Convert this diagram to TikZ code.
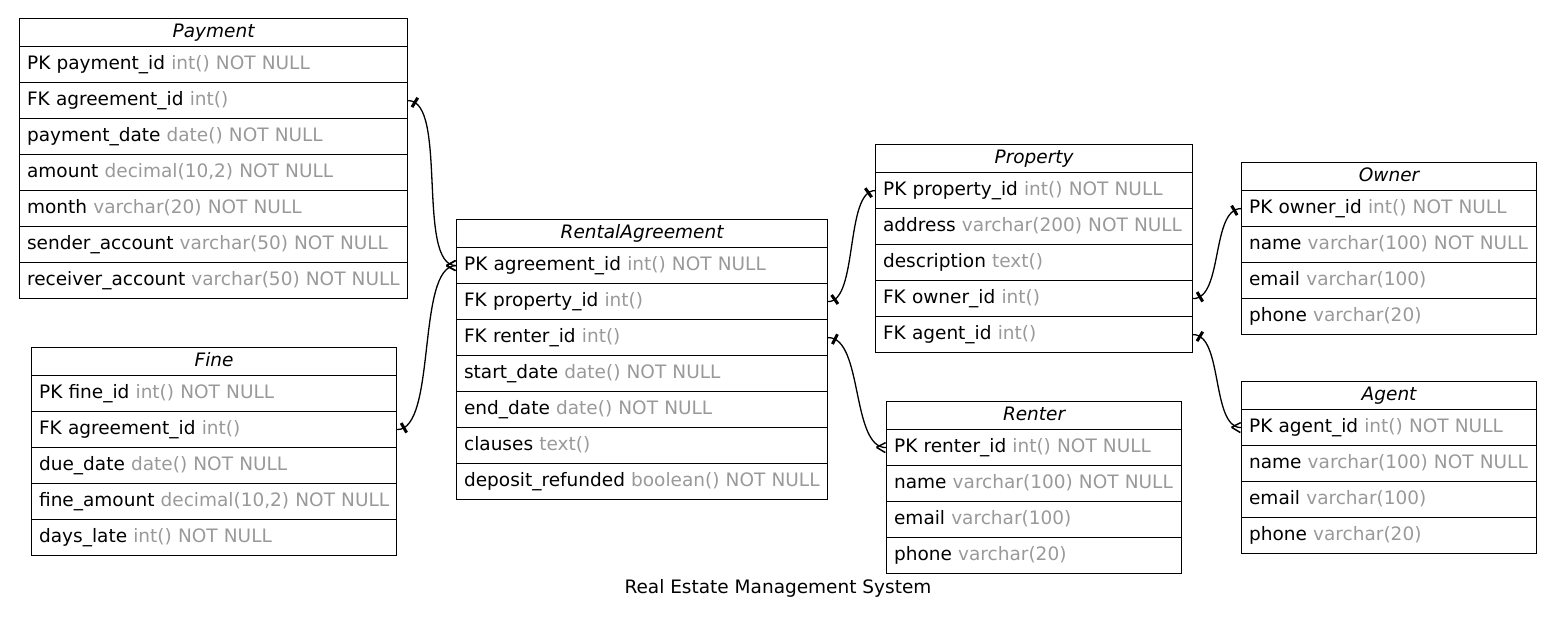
\documentclass[tikz,border=0pt]{standalone}
\usepackage{fontspec}
\setmainfont{DejaVu Sans}
\usetikzlibrary{decorations.markings}

\definecolor{typegray}{HTML}{999999}
\newcommand{\erfont}{\fontsize{18.5}{22}\selectfont}
\newcommand{\fld}[2]{\mbox{#1 \textcolor{typegray}{#2}}}

\tikzset{
  entity/.style={draw, line width=1.2pt, anchor=north west, minimum width=#1,
    minimum height=28pt, inner sep=0pt, text height=13pt, text depth=4pt, font=\erfont\itshape},
  field/.style={draw, line width=1.2pt, anchor=north west, minimum height=36pt,
    inner xsep=7.5pt, inner ysep=0pt, text height=13pt, text depth=4pt,
    align=left, text width=#1, font=\erfont},
  rel/.style={line width=1.3pt},
  barstart/.style={postaction={decorate, decoration={markings,
    mark=at position 7pt with {\draw[line width=3pt] (0,-5.5pt) -- (0,5.5pt);}}}},
  barend/.style={postaction={decorate, decoration={markings,
    mark=at position -7pt with {\draw[line width=3pt] (0,-5.5pt) -- (0,5.5pt);}}}},
  crowend/.style={postaction={decorate, decoration={markings,
    mark=at position -0.5pt with {\draw[line width=1.5pt] (-9pt,0) -- (0,5pt) (-9pt,0) -- (0,-5pt);}}}}
}

\begin{document}
\begin{tikzpicture}[x=1pt, y=-1pt]
    \useasboundingbox (0,0) rectangle (1556,623);

    % Payment
    \node[entity=388pt] (pay) at (19,18) {Payment};
    \foreach \i/\t in {1/{\fld{PK payment\_id}{int() NOT NULL}},
                       2/{\fld{FK agreement\_id}{int()}},
                       3/{\fld{payment\_date}{date() NOT NULL}},
                       4/{\fld{amount}{decimal(10,2) NOT NULL}},
                       5/{\fld{month}{varchar(20) NOT NULL}},
                       6/{\fld{sender\_account}{varchar(50) NOT NULL}},
                       7/{\fld{receiver\_account}{varchar(50) NOT NULL}}}
        \node[field=373pt] (pay\i) at (19,{46+(\i-1)*36}) {\t};

    % Fine
    \node[entity=365pt] (fine) at (31,347) {Fine};
    \foreach \i/\t in {1/{\fld{PK fine\_id}{int() NOT NULL}},
                       2/{\fld{FK agreement\_id}{int()}},
                       3/{\fld{due\_date}{date() NOT NULL}},
                       4/{\fld{fine\_amount}{decimal(10,2) NOT NULL}},
                       5/{\fld{days\_late}{int() NOT NULL}}}
        \node[field=350pt] (fine\i) at (31,{375+(\i-1)*36}) {\t};

    % RentalAgreement
    \node[entity=371pt] (ra) at (456,219) {RentalAgreement};
    \foreach \i/\t in {1/{\fld{PK agreement\_id}{int() NOT NULL}},
                       2/{\fld{FK property\_id}{int()}},
                       3/{\fld{FK renter\_id}{int()}},
                       4/{\fld{start\_date}{date() NOT NULL}},
                       5/{\fld{end\_date}{date() NOT NULL}},
                       6/{\fld{clauses}{text()}},
                       7/{\fld{deposit\_refunded}{boolean() NOT NULL}}}
        \node[field=356pt] (ra\i) at (456,{247+(\i-1)*36}) {\t};

    % Property
    \node[entity=317pt] (prop) at (875,144) {Property};
    \foreach \i/\t in {1/{\fld{PK property\_id}{int() NOT NULL}},
                       2/{\fld{address}{varchar(200) NOT NULL}},
                       3/{\fld{description}{text()}},
                       4/{\fld{FK owner\_id}{int()}},
                       5/{\fld{FK agent\_id}{int()}}}
        \node[field=302pt] (prop\i) at (875,{172+(\i-1)*36}) {\t};

    % Owner
    \node[entity=295pt] (own) at (1241,162) {Owner};
    \foreach \i/\t in {1/{\fld{PK owner\_id}{int() NOT NULL}},
                       2/{\fld{name}{varchar(100) NOT NULL}},
                       3/{\fld{email}{varchar(100)}},
                       4/{\fld{phone}{varchar(20)}}}
        \node[field=280pt] (own\i) at (1241,{190+(\i-1)*36}) {\t};

    % Renter
    \node[entity=295pt] (rent) at (886,401) {Renter};
    \foreach \i/\t in {1/{\fld{PK renter\_id}{int() NOT NULL}},
                       2/{\fld{name}{varchar(100) NOT NULL}},
                       3/{\fld{email}{varchar(100)}},
                       4/{\fld{phone}{varchar(20)}}}
        \node[field=280pt] (rent\i) at (886,{429+(\i-1)*36}) {\t};

    % Agent
    \node[entity=295pt] (agt) at (1241,381) {Agent};
    \foreach \i/\t in {1/{\fld{PK agent\_id}{int() NOT NULL}},
                       2/{\fld{name}{varchar(100) NOT NULL}},
                       3/{\fld{email}{varchar(100)}},
                       4/{\fld{phone}{varchar(20)}}}
        \node[field=280pt] (agt\i) at (1241,{409+(\i-1)*36}) {\t};

    % relations
    \draw[rel, barstart, crowend] (pay2.east) .. controls +(40,0) and +(-40,0) .. (ra1.west);
    \draw[rel, barstart, crowend] (fine2.east) .. controls +(40,0) and +(-40,0) .. (ra1.west);
    \draw[rel, barstart, barend] (ra2.east) .. controls +(30,0) and +(-30,0) .. (prop1.west);
    \draw[rel, barstart, crowend] (ra3.east) .. controls +(35,0) and +(-35,0) .. (rent1.west);
    \draw[rel, barstart, barend] (prop4.east) .. controls +(30,0) and +(-30,0) .. (own1.west);
    \draw[rel, barstart, crowend] (prop5.east) .. controls +(30,0) and +(-30,0) .. (agt1.west);

    \node[font=\erfont, text height=13pt, text depth=4pt] (title) at (778,589) {Real Estate Management System};
\end{tikzpicture}
\end{document}
